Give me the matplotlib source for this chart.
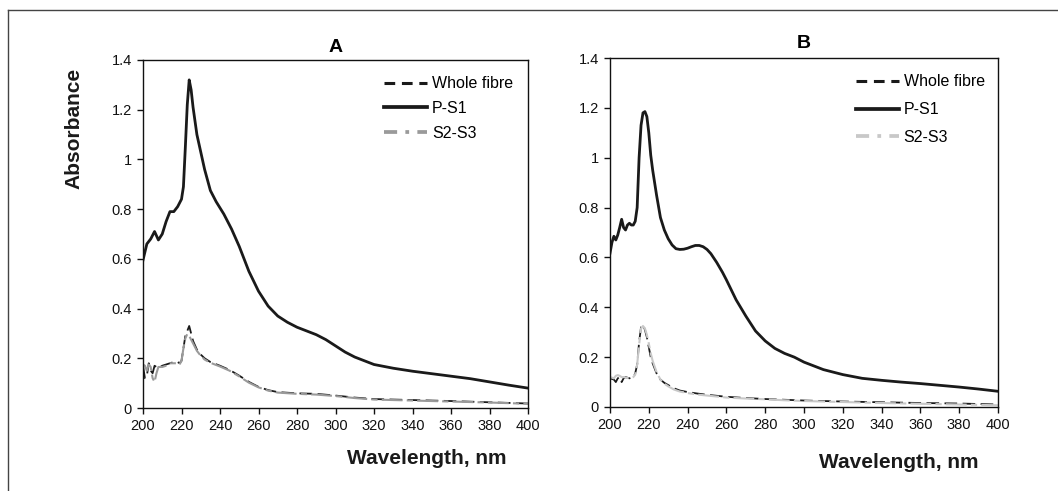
import numpy as np
import matplotlib
matplotlib.use("Agg")
import matplotlib.pyplot as plt
from matplotlib.lines import Line2D

plt.rcParams['font.family'] = ['Liberation Sans', 'DejaVu Sans']

# panel A data
wl_a_ps1 = [200, 202, 204, 206, 208, 210, 212, 214, 216, 218, 220, 221, 222, 223, 224, 225, 226,
            228, 230, 232, 235, 238, 242, 246, 250, 255, 260, 265, 270, 275, 280, 285, 290, 295,
            300, 305, 310, 315, 320, 330, 340, 350, 360, 370, 380, 390, 400]
a_ps1 = [0.595, 0.66, 0.68, 0.71, 0.676, 0.70, 0.75, 0.79, 0.79, 0.81, 0.84, 0.89, 1.05, 1.22, 1.32,
         1.28, 1.21, 1.10, 1.03, 0.96, 0.875, 0.83, 0.78, 0.72, 0.65, 0.55, 0.47, 0.41, 0.37, 0.345,
         0.325, 0.31, 0.295, 0.275, 0.25, 0.225, 0.205, 0.19, 0.175, 0.16, 0.148, 0.138, 0.128,
         0.118, 0.105, 0.092, 0.08]

wl_a_low = [200, 201, 202, 203, 204, 205, 206, 207, 208, 210, 212, 214, 216, 218, 219, 220, 221,
            222, 223, 224, 225, 226, 228, 230, 232, 235, 240, 245, 250, 255, 260, 265, 270, 280,
            290, 300, 310, 320, 340, 360, 380, 400]
a_whole = [0.17, 0.12, 0.13, 0.18, 0.15, 0.14, 0.17, 0.165, 0.16, 0.17, 0.175, 0.18, 0.185, 0.185,
           0.18, 0.19, 0.24, 0.29, 0.31, 0.33, 0.30, 0.27, 0.235, 0.215, 0.20, 0.185, 0.17, 0.153,
           0.13, 0.105, 0.085, 0.072, 0.064, 0.059, 0.057, 0.05, 0.042, 0.036, 0.032, 0.028,
           0.023, 0.018]
a_s2s3 = [0.175, 0.17, 0.15, 0.175, 0.165, 0.12, 0.105, 0.14, 0.165, 0.165, 0.17, 0.18, 0.18, 0.18,
          0.175, 0.19, 0.24, 0.28, 0.298, 0.29, 0.275, 0.26, 0.23, 0.21, 0.195, 0.182, 0.167,
          0.15, 0.127, 0.102, 0.083, 0.07, 0.062, 0.057, 0.054, 0.048, 0.04, 0.034, 0.03, 0.026,
          0.022, 0.017]

# panel B data
wl_b_ps1 = [200, 201, 202, 203, 204, 205, 206, 207, 208, 209, 210, 211, 212, 213, 214, 215, 216,
            217, 218, 219, 220, 221, 222, 224, 226, 228, 230, 232, 234, 236, 238, 240, 242, 244,
            246, 248, 250, 252, 255, 258, 260, 265, 270, 275, 280, 285, 290, 295, 300, 305, 310,
            315, 320, 330, 340, 350, 360, 370, 380, 390, 400]
b_ps1 = [0.617, 0.66, 0.685, 0.67, 0.69, 0.72, 0.753, 0.72, 0.71, 0.73, 0.737, 0.73, 0.73, 0.745,
         0.80, 1.0, 1.13, 1.18, 1.185, 1.165, 1.10, 1.01, 0.95, 0.85, 0.76, 0.71, 0.675, 0.65,
         0.635, 0.632, 0.633, 0.637, 0.643, 0.648, 0.648, 0.643, 0.632, 0.615, 0.58, 0.54, 0.51,
         0.43, 0.365, 0.305, 0.265, 0.235, 0.215, 0.2, 0.18, 0.165, 0.15, 0.14, 0.13, 0.115,
         0.107, 0.1, 0.094, 0.087, 0.08, 0.072, 0.063]

wl_b_low = [200, 202, 203, 204, 205, 206, 207, 208, 210, 212, 213, 214, 215, 216, 217, 218, 219,
            220, 221, 222, 224, 226, 228, 230, 233, 236, 240, 245, 250, 255, 260, 270, 280, 290,
            300, 320, 340, 360, 380, 400]
b_whole = [0.115, 0.11, 0.10, 0.115, 0.12, 0.10, 0.115, 0.12, 0.115, 0.12, 0.135, 0.17, 0.26, 0.32,
           0.33, 0.31, 0.28, 0.24, 0.2, 0.175, 0.135, 0.11, 0.097, 0.088, 0.075, 0.066, 0.06,
           0.054, 0.049, 0.045, 0.041, 0.036, 0.032, 0.029, 0.026, 0.022, 0.019, 0.016, 0.014,
           0.01]
b_s2s3 = [0.12, 0.115, 0.125, 0.128, 0.125, 0.12, 0.12, 0.118, 0.115, 0.12, 0.13, 0.17, 0.25, 0.315,
          0.325, 0.315, 0.29, 0.255, 0.215, 0.185, 0.14, 0.11, 0.094, 0.083, 0.07, 0.062, 0.056,
          0.05, 0.046, 0.042, 0.038, 0.034, 0.031, 0.027, 0.024, 0.02, 0.016, 0.013, 0.01, 0.007]

labels = ['Whole fibre', 'P-S1', 'S2-S3']
x_ticks = list(range(200, 401, 20))
y_ticks = [0, 0.2, 0.4, 0.6, 0.8, 1, 1.2, 1.4]
y_ticklabels = ['0', '0.2', '0.4', '0.6', '0.8', '1', '1.2', '1.4']

W, H = 1058, 491
fig = plt.figure(figsize=(W / 100, H / 100), dpi=100)

# thin frame round the figure (left and top edges show)
fig.add_artist(Line2D([8 / W, 8 / W], [0, 1 - 10 / H], color='#444444', lw=1.0))
fig.add_artist(Line2D([8 / W, 1], [1 - 10 / H, 1 - 10 / H], color='#444444', lw=1.0))

dark = '#1a1a1a'


def panel(rect, wl_top, top, wl_low, whole, s2s3, grey, title, title_y, xlab_x, xlab_y,
          leg_x, leg_y, leg_sp):
    ax = fig.add_axes(rect)
    ax.plot(wl_low, whole, color=dark, lw=1.3, dashes=(7, 3))
    ax.plot(wl_low, s2s3, color=grey, lw=1.5, dashes=(10, 2, 3, 2))
    ax.plot(wl_top, top, color=dark, lw=2.0)
    ax.set_xlim(200, 400)
    ax.set_ylim(0, 1.4)
    ax.set_xticks(x_ticks)
    ax.set_yticks(y_ticks)
    ax.set_yticklabels(y_ticklabels)
    ax.tick_params(direction='out', length=4, width=1.0, labelsize=10.5, colors='#111111', pad=4)
    for s in ax.spines.values():
        s.set_linewidth(1.0)
        s.set_color('#111111')

    handles = [Line2D([], [], color=dark, lw=2.2, dashes=(3.5, 2.2)),
               Line2D([], [], color=dark, lw=2.7),
               Line2D([], [], color=grey, lw=2.7, dashes=(3.5, 2.2, 1.0, 2.2))]
    ax.legend(handles, labels, loc='upper right', frameon=False, fontsize=11.5,
              handlelength=2.7, handletextpad=0.3, labelspacing=leg_sp,
              bbox_to_anchor=(leg_x, leg_y), borderaxespad=0.3)
    fig.text(rect[0] + rect[2] / 2, title_y, title, ha='center', va='center',
             fontsize=14, fontweight='bold')
    fig.text(xlab_x, xlab_y, 'Wavelength, nm', ha='center', va='center',
             fontsize=15, fontweight='bold', color='#1a1a1a')
    return ax


ax_a = panel([143 / W, 1 - 408 / H, 385 / W, 348 / H], wl_a_ps1, a_ps1, wl_a_low, a_whole, a_s2s3,
             '#9a9a9a', 'A', 1 - 47 / H, 427 / W, 1 - 458 / H, 0.99, 0.985, 0.6)
ax_b = panel([610 / W, 1 - 407 / H, 388 / W, 349 / H], wl_b_ps1, b_ps1, wl_b_low, b_whole, b_s2s3,
             '#c8c8c8', 'B', 1 - 43 / H, 899 / W, 1 - 462 / H, 0.995, 0.985, 0.8)

fig.text(74 / W, 1 - 128 / H, 'Absorbance', rotation=90, ha='center', va='center',
         fontsize=15, fontweight='bold', color='#1a1a1a')

fig.savefig('out.png', dpi=100)
